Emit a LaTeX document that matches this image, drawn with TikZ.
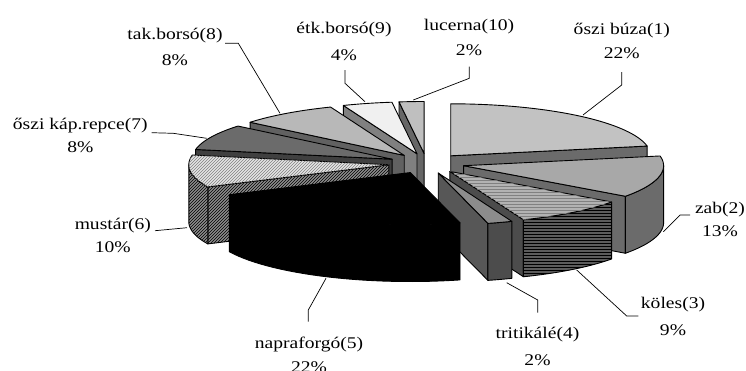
\documentclass[tikz,border=0pt]{standalone}
\usepackage{fontspec}
\setmainfont{Liberation Serif}[FakeStretch=1.2]
\usetikzlibrary{patterns}
\definecolor{aTop}{gray}{0.76}\definecolor{aFace}{gray}{0.42}
\definecolor{bTop}{gray}{0.66}\definecolor{bFace}{gray}{0.42}
\definecolor{cTop}{gray}{0.70}\definecolor{cSide}{gray}{0.36}\definecolor{cFace}{gray}{0.30}
\definecolor{dTop}{gray}{0.55}\definecolor{dSide}{gray}{0.30}\definecolor{dFace}{gray}{0.34}
\definecolor{fTop}{gray}{0.90}\definecolor{fSide}{gray}{0.55}
\definecolor{gTop}{gray}{0.42}\definecolor{gFace}{gray}{0.25}
\definecolor{hTop}{gray}{0.72}\definecolor{hFace}{gray}{0.38}
\definecolor{iTop}{gray}{0.94}\definecolor{iFace}{gray}{0.50}
\definecolor{jTop}{gray}{0.75}\definecolor{jFace}{gray}{0.40}
% top face of a slice: centre (#1,#2), from angle #3 to #4
\newcommand\pietop[5]{\path[#5] (#1,#2) -- plot[domain=#3:#4,samples=40,variable=\x] ({#1+200*cos(\x)},{#2-52*sin(\x)}) -- cycle;}
% radial cut face at angle #3
\newcommand\pieface[4]{\path[#4] (#1,#2) -- ({#1+200*cos(#3)},{#2-52*sin(#3)}) -- ({#1+200*cos(#3)},{#2-52*sin(#3)+57}) -- (#1,{#2+57}) -- cycle;}
% outer curved side between angles #3 and #4
\newcommand\pieside[5]{\path[#5] plot[domain=#3:#4,samples=30,variable=\x] ({#1+200*cos(\x)},{#2-52*sin(\x)}) -- plot[domain=#4:#3,samples=30,variable=\x] ({#1+200*cos(\x)},{#2-52*sin(\x)+57}) -- cycle;}
\begin{document}
\begin{tikzpicture}[x=1pt,y=-1pt,
  edge/.style={draw=black,line width=0.9pt,line join=round},
  leader/.style={draw=black,line width=0.7pt},
  lbl/.style={anchor=base,inner sep=0pt,font=\fontsize{16.3}{20}\selectfont}]
\useasboundingbox[fill=white] (0,0) rectangle (746,370);
% 10 lucerna
\pieface{424.1}{153.5}{97.2}{edge,fill=jFace}
\pietop{424.1}{153.5}{97.2}{90}{edge,fill=jTop}
% 9 etk.borso
\pieface{417}{153.8}{111.6}{edge,fill=iFace}
\pietop{417}{153.8}{111.6}{97.2}{edge,fill=iTop}
% 8 tak.borso
\pieface{404.2}{155.4}{140.4}{edge,fill=hFace}
\pietop{404.2}{155.4}{140.4}{111.6}{edge,fill=hTop}
% 1 oszi buza
\pieface{450.7}{155.8}{10.8}{edge,fill=aFace}
\pietop{450.7}{155.8}{90}{10.8}{edge,fill=aTop}
% 7 repce
\pieface{392.1}{159.2}{169.2}{edge,fill=gFace}
\pietop{392.1}{159.2}{169.2}{140.4}{edge,fill=gTop}
% 6 mustar
\pieface{388.8}{164.75}{-154.8}{edge,fill=fSide,postaction={pattern=north east lines,pattern color=black}}
\pieside{388.8}{164.75}{-180}{-154.8}{edge,fill=fSide,postaction={pattern=north east lines,pattern color=black}}
\pietop{388.8}{164.75}{-154.8}{-190.8}{edge,fill=fTop,postaction={pattern=north east lines,pattern color=gray}}
% 2 zab
\pieface{463.6}{165.7}{-36}{edge,fill=bFace}
\pieside{463.6}{165.7}{-36}{0}{edge,fill=bFace}
\pietop{463.6}{165.7}{10.8}{-36}{edge,fill=bTop}
% 3 koles
\pieface{449.8}{171.4}{-68.4}{edge,fill=cFace}
\pieside{449.8}{171.4}{-68.4}{-36}{edge,fill=cSide,postaction={pattern=horizontal lines,pattern color=black}}
\pietop{449.8}{171.4}{-36}{-68.4}{edge,fill=cTop,postaction={pattern=horizontal lines,pattern color=gray}}
% 4 tritikale
\pieface{438.2}{173.0}{-75.6}{edge,fill=dFace}
\pieside{438.2}{173.0}{-75.6}{-68.4}{edge,fill=dSide}
\pietop{438.2}{173.0}{-68.4}{-75.6}{edge,fill=dTop}
% 5 napraforgo
\pieside{410.3}{172.55}{-154.8}{-75.6}{edge,fill=black}
\pietop{410.3}{172.55}{-75.6}{-154.8}{edge,fill=black}
% labels
\node[lbl] (l1) at (621.8,34.5) {őszi búza(1)};
\node[lbl] (p1) at (621.8,58.7) {22\%};
\node[lbl] (l2) at (720,213) {zab(2)};
\node[lbl] (p2) at (720,236) {13\%};
\node[lbl] (l3) at (673,308.3) {köles(3)};
\node[lbl] (p3) at (673,335) {9\%};
\node[lbl] (l4) at (537.5,338.3) {tritikálé(4)};
\node[lbl] (p4) at (537.5,365) {2\%};
\node[lbl] (l5) at (309,348.3) {napraforgó(5)};
\node[lbl] (p5) at (309,372) {22\%};
\node[lbl] (l6) at (112.8,229) {mustár(6)};
\node[lbl] (p6) at (112.8,252) {10\%};
\node[lbl] (l7) at (80.3,129) {őszi káp.repce(7)};
\node[lbl] (p7) at (80.3,152) {8\%};
\node[lbl] (l8) at (175,39.3) {tak.borsó(8)};
\node[lbl] (p8) at (175,65) {8\%};
\node[lbl] (l9) at (344,33.3) {étk.borsó(9)};
\node[lbl] (p9) at (344,60) {4\%};
\node[lbl] (l10) at (469,30) {lucerna(10)};
\node[lbl] (p10) at (469,55) {2\%};
% leader lines
\coordinate (a1) at (621.7,72); \coordinate (b1) at (621.7,85); \coordinate (c1) at (583,115);
\coordinate (a2) at (690,215); \coordinate (b2) at (680,215); \coordinate (c2) at (663.3,231.7);
\coordinate (a3) at (638.3,316); \coordinate (b3) at (626.7,316); \coordinate (c3) at (576.7,270);
\coordinate (a4) at (537.7,312.7); \coordinate (b4) at (537.7,300); \coordinate (c4) at (506.7,282.7);
\coordinate (a5) at (308.3,321.7); \coordinate (b5) at (308.3,310); \coordinate (c5) at (326,278.3);
\coordinate (a6) at (155,230.7); \coordinate (c6) at (187,227.7);
\coordinate (a7) at (151.7,132.7); \coordinate (b7) at (173.3,133.3); \coordinate (c7) at (206.7,138.3);
\coordinate (a8) at (225,43.3); \coordinate (b8) at (238.3,43.3); \coordinate (c8) at (280,113.3);
\coordinate (a9) at (345,70); \coordinate (b9) at (345,83.3); \coordinate (c9) at (365,101.7);
\coordinate (a10) at (469.3,66.7); \coordinate (b10) at (469.3,78.3); \coordinate (c10) at (413.3,100);
\draw[leader] (a1) -- (b1) -- (c1);
\draw[leader] (a2) -- (b2) -- (c2);
\draw[leader] (a3) -- (b3) -- (c3);
\draw[leader] (a4) -- (b4) -- (c4);
\draw[leader] (a5) -- (b5) -- (c5);
\draw[leader] (a6) -- (c6);
\draw[leader] (a7) -- (b7) -- (c7);
\draw[leader] (a8) -- (b8) -- (c8);
\draw[leader] (a9) -- (b9) -- (c9);
\draw[leader] (a10) -- (b10) -- (c10);
\end{tikzpicture}
\end{document}
